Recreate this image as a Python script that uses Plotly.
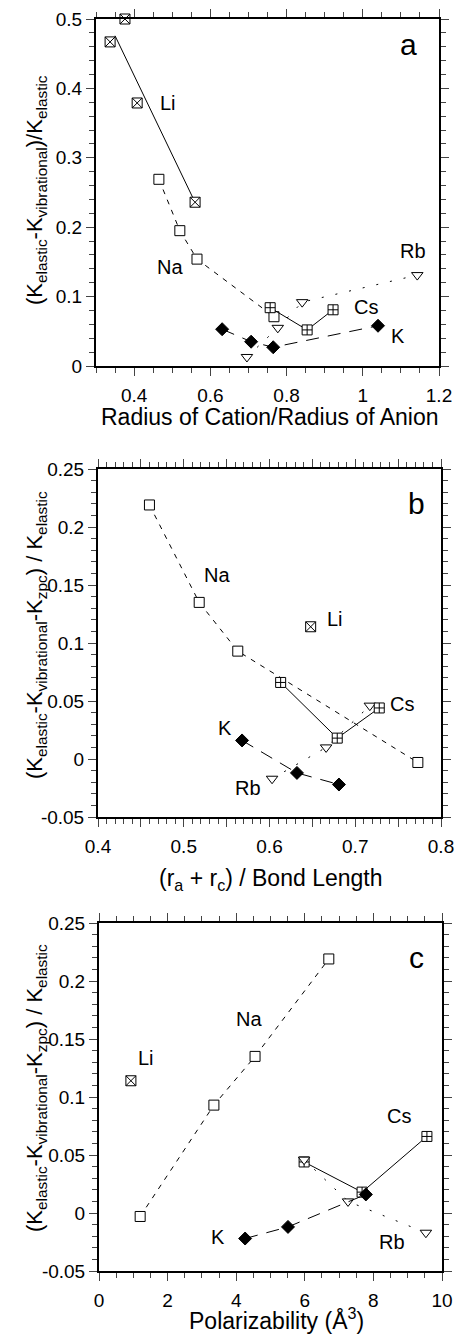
import plotly.graph_objects as go

W, H = 458, 1340
FONT = "Liberation Sans, Arial, Helvetica, sans-serif"

# ---------------- panel a: radius of cation / radius of anion ----------------
li_a_x = [0.337, 0.376, 0.408, 0.560]
li_a_y = [0.467, 0.500, 0.379, 0.236]
na_a_x = [0.465, 0.520, 0.565, 0.767]
na_a_y = [0.269, 0.195, 0.154, 0.071]
k_a_x = [0.631, 0.707, 0.765, 1.040]
k_a_y = [0.053, 0.035, 0.027, 0.058]
rb_a_x = [0.696, 0.777, 0.841, 1.143]
rb_a_y = [0.013, 0.055, 0.092, 0.131]
cs_a_x = [0.757, 0.854, 0.922]
cs_a_y = [0.084, 0.052, 0.081]
li_a_fit_x = [0.35, 0.56]

# ---------------- panel b: (ra + rc) / bond length ----------------
li_b_x = [0.648]
li_b_y = [0.114]
na_b_x = [0.460, 0.518, 0.563, 0.773]
na_b_y = [0.219, 0.135, 0.093, -0.003]
k_b_x = [0.568, 0.632, 0.681]
k_b_y = [0.016, -0.012, -0.022]
rb_b_x = [0.603, 0.666, 0.717]
rb_b_y = [-0.017, 0.010, 0.046]
cs_b_x = [0.613, 0.679, 0.728]
cs_b_y = [0.066, 0.018, 0.044]

# ---------------- panel c: polarizability ----------------
li_c_x = [0.93]
li_c_y = [0.114]
na_c_x = [1.20, 3.35, 4.55, 6.70]
na_c_y = [-0.003, 0.093, 0.135, 0.219]
k_c_x = [4.26, 5.51, 7.78]
k_c_y = [-0.022, -0.012, 0.016]
rb_c_x = [5.98, 7.26, 9.53]
rb_c_y = [0.046, 0.010, -0.017]
cs_c_x = [5.98, 7.67, 9.56]
cs_c_y = [0.044, 0.018, 0.066]

# tick label substitutions (hyphen minus, blank half-step labels)
b_x_alias = {"0.45": " ", "0.55": " ", "0.65": " ", "0.75": " "}
bc_y_alias = {"\u22120.05": "-0.05"}

fig = go.Figure()

LW = 1
DASH_NA = "5px,6px"
DASH_K = "13px,9px"
DASH_RB = "2px,12px"


def series(x, y, ax, dash, symbol, size=10, fill="white", mode="lines+markers"):
    fig.add_trace(go.Scatter(
        x=x, y=y, xaxis=ax[0], yaxis=ax[1], mode=mode,
        line=dict(color="black", width=LW, dash=dash),
        marker=dict(symbol=symbol, size=size, color=fill,
                    line=dict(color="black", width=1)),
        cliponaxis=False, showlegend=False))


# least-squares line through the Li points of panel a
n = len(li_a_x)
mx = sum(li_a_x) / n
my = sum(li_a_y) / n
slope = sum((a - mx) * (b - my) for a, b in zip(li_a_x, li_a_y)) / \
    sum((a - mx) ** 2 for a in li_a_x)
fit_y = [my + slope * (v - mx) for v in li_a_fit_x]
fig.add_trace(go.Scatter(x=li_a_fit_x, y=fit_y, xaxis="x", yaxis="y",
                         mode="lines", line=dict(color="black", width=LW),
                         showlegend=False))

A = ("x", "y")
B = ("x2", "y2")
C = ("x3", "y3")

series(na_a_x, na_a_y, A, DASH_NA, "square")
series(k_a_x, k_a_y, A, DASH_K, "diamond", 10, fill="black")
series(rb_a_x, rb_a_y, A, DASH_RB, "triangle-down", 10)
series(cs_a_x, cs_a_y, A, "solid", "square-cross")
series(li_a_x, li_a_y, A, "solid", "square-x", mode="markers")

series(na_b_x, na_b_y, B, DASH_NA, "square")
series(k_b_x, k_b_y, B, DASH_K, "diamond", 10, fill="black")
series(rb_b_x, rb_b_y, B, DASH_RB, "triangle-down", 10)
series(cs_b_x, cs_b_y, B, "solid", "square-cross")
series(li_b_x, li_b_y, B, "solid", "square-x", mode="markers")

series(na_c_x, na_c_y, C, DASH_NA, "square")
series(cs_c_x, cs_c_y, C, "solid", "square-cross")
series(rb_c_x, rb_c_y, C, DASH_RB, "triangle-down", 10)
series(k_c_x, k_c_y, C, DASH_K, "diamond", 10, fill="black")
series(li_c_x, li_c_y, C, "solid", "square-x", mode="markers")

# panel boxes in pixels: (left, right, top, bottom)
boxes = {
    "a": (96, 439, 19, 366),
    "b": (98, 441, 469, 817),
    "c": (99, 442, 923, 1271),
}


def xdom(b):
    return [b[0] / W, b[1] / W]


def ydom(b):
    return [1 - b[3] / H, 1 - b[2] / H]


def minor(dt):
    return dict(ticks="outside", ticklen=5, dtick=dt)


def axis_style(standoff, **kw):
    d = dict(showline=True, linecolor="black", linewidth=2, mirror="ticks",
             ticks="outside", ticklen=8, showgrid=False, zeroline=False,
             automargin=False, ticklabelstandoff=standoff,
             tickfont=dict(family=FONT, size=19, color="black"))
    d.update(kw)
    return d


layout_axes = dict(
    xaxis=axis_style(3, domain=xdom(boxes["a"]), range=[0.3, 1.2], anchor="y",
                     tick0=0.4, dtick=0.2, minor=minor(0.05)),
    yaxis=axis_style(0, domain=ydom(boxes["a"]), range=[0, 0.5], anchor="x",
                     tick0=0, dtick=0.1, minor=minor(0.02)),
    xaxis2=axis_style(3, domain=xdom(boxes["b"]), range=[0.4, 0.8], anchor="y2",
                      tick0=0.4, dtick=0.05, labelalias=b_x_alias,
                      minor=minor(0.01)),
    yaxis2=axis_style(0, domain=ydom(boxes["b"]), range=[-0.05, 0.25],
                      anchor="x2", tick0=0, dtick=0.05, labelalias=bc_y_alias,
                      minor=minor(0.01)),
    xaxis3=axis_style(3, domain=xdom(boxes["c"]), range=[0, 10], anchor="y3",
                      tick0=0, dtick=2, minor=minor(0.5)),
    yaxis3=axis_style(0, domain=ydom(boxes["c"]), range=[-0.05, 0.25],
                      anchor="x3", tick0=0, dtick=0.05, labelalias=bc_y_alias,
                      minor=minor(0.01)),
)

# series labels placed in data coordinates
labels = [
    ("x", "y", 0.49, 0.379, "Li", 20), ("x", "y", 0.494, 0.143, "Na", 20),
    ("x", "y", 1.132, 0.165, "Rb", 20), ("x", "y", 1.009, 0.085, "Cs", 20),
    ("x", "y", 1.093, 0.043, "K", 20), ("x", "y", 1.12, 0.463, "a", 30),
    ("x2", "y2", 0.539, 0.159, "Na", 20), ("x2", "y2", 0.676, 0.121, "Li", 20),
    ("x2", "y2", 0.755, 0.047, "Cs", 20), ("x2", "y2", 0.548, 0.027, "K", 20),
    ("x2", "y2", 0.575, -0.025, "Rb", 20), ("x2", "y2", 0.772, 0.220, "b", 30),
    ("x3", "y3", 1.37, 0.134, "Li", 20), ("x3", "y3", 4.37, 0.167, "Na", 20),
    ("x3", "y3", 8.75, 0.084, "Cs", 20), ("x3", "y3", 3.47, -0.021, "K", 20),
    ("x3", "y3", 8.54, -0.025, "Rb", 20), ("x3", "y3", 9.27, 0.220, "c", 30),
]
annotations = []
for xr, yr, x, y, t, s in labels:
    annotations.append(dict(xref=xr, yref=yr, x=x, y=y, text=t, showarrow=False,
                            font=dict(family=FONT, size=s, color="black"),
                            xanchor="center", yanchor="middle"))

# axis titles (pixel positions converted to paper coordinates)
titles = [
    (270, 417, 0, "Radius of Cation/Radius of Anion", 23),
    (271, 879, 0, "(r<sub>a</sub> + r<sub>c</sub>) / Bond Length", 23),
    (276, 1319, 0, "Polarizability (Å<sup>3</sup>)", 23),
    (36, 190, -90, "(K<sub>elastic</sub>-K<sub>vibrational</sub>)/K<sub>elastic</sub>", 22),
    (36, 635, -90, "(K<sub>elastic</sub>-K<sub>vibrational</sub>-K<sub>zpc</sub>) / K<sub>elastic</sub>", 22),
    (36, 1088, -90, "(K<sub>elastic</sub>-K<sub>vibrational</sub>-K<sub>zpc</sub>) / K<sub>elastic</sub>", 22),
]
for px, py, ang, t, s in titles:
    annotations.append(dict(xref="paper", yref="paper", x=px / W, y=1 - py / H,
                            text=t, textangle=ang, showarrow=False,
                            font=dict(family=FONT, size=s, color="black"),
                            xanchor="center", yanchor="middle"))

fig.update_layout(
    template="simple_white",
    width=W, height=H,
    margin=dict(l=0, r=0, t=0, b=0, autoexpand=False),
    font=dict(family=FONT, color="black"),
    showlegend=False,
    annotations=annotations,
    **layout_axes,
)

fig.write_html("out.html")
